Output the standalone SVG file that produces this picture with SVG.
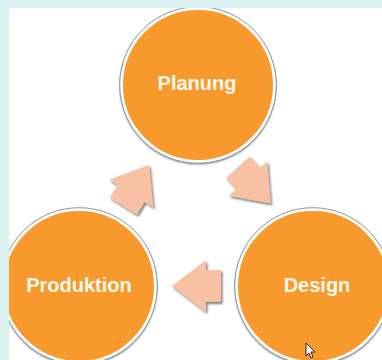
<svg xmlns="http://www.w3.org/2000/svg" width="382" height="360" viewBox="0 0 382 360">
  <defs>
    <style>
      .node circle { fill: #F8992F; stroke: #FFFFFF; stroke-width: 3; }
      .node .rim { fill: none; stroke: #8E98A4; stroke-width: 1; }
      .label { font-family: "Liberation Sans", Arial, sans-serif; font-weight: bold; font-size: 20px; fill: #FFF8EC; text-anchor: middle; }
      .arrow { fill: #F8C1A3; }
    </style>
    <clipPath id="area">
      <rect x="9" y="8" width="373" height="352"/>
    </clipPath>
    <filter id="cshadow" x="-10%" y="-10%" width="120%" height="120%">
      <feDropShadow dx="0" dy="1.2" stdDeviation="1" flood-color="#4a5460" flood-opacity="0.8"/>
    </filter>
    <filter id="ashadow" x="-20%" y="-20%" width="140%" height="140%">
      <feDropShadow dx="1.5" dy="2" stdDeviation="0.9" flood-color="#3a3a3a" flood-opacity="0.65"/>
    </filter>
    <polygon id="arr" points="25,0 -9,-26 -9,-16 -24,-16 -24,16 -9,16 -9,26"/>
  </defs>

  <rect x="0" y="0" width="382" height="360" fill="#DAEFEF"/>
  <rect x="9" y="8" width="373" height="352" fill="#FFFFFF"/>

  <g clip-path="url(#area)">
    <g id="connectors">
      <g filter="url(#ashadow)"><use href="#arr" class="arrow" transform="translate(136,186) rotate(-58)"/></g>
      <g filter="url(#ashadow)"><use href="#arr" class="arrow" transform="translate(254,185) rotate(48)"/></g>
      <g filter="url(#ashadow)"><use href="#arr" class="arrow" transform="translate(197,286) rotate(180)"/></g>
    </g>

    <g id="planung" class="node">
      <circle cx="198" cy="85" r="76.5" filter="url(#cshadow)"/>
      <circle class="rim" cx="198" cy="85" r="78.3"/>
      <text class="label" x="197" y="90">Planung</text>
    </g>
    <g id="design" class="node">
      <circle cx="313" cy="286" r="76.5" filter="url(#cshadow)"/>
      <circle class="rim" cx="313" cy="286" r="78.3"/>
      <text class="label" x="317" y="292">Design</text>
    </g>
    <g id="produktion" class="node">
      <circle cx="79" cy="286" r="76.5" filter="url(#cshadow)"/>
      <circle class="rim" cx="79" cy="286" r="78.3"/>
      <text class="label" x="79" y="292">Produktion</text>
    </g>

    <polygon points="306,343 306,356 309,353 311,358 313,357 311,352 315,352" fill="#FFFFFF" stroke="#222222" stroke-width="1"/>
  </g>
</svg>
